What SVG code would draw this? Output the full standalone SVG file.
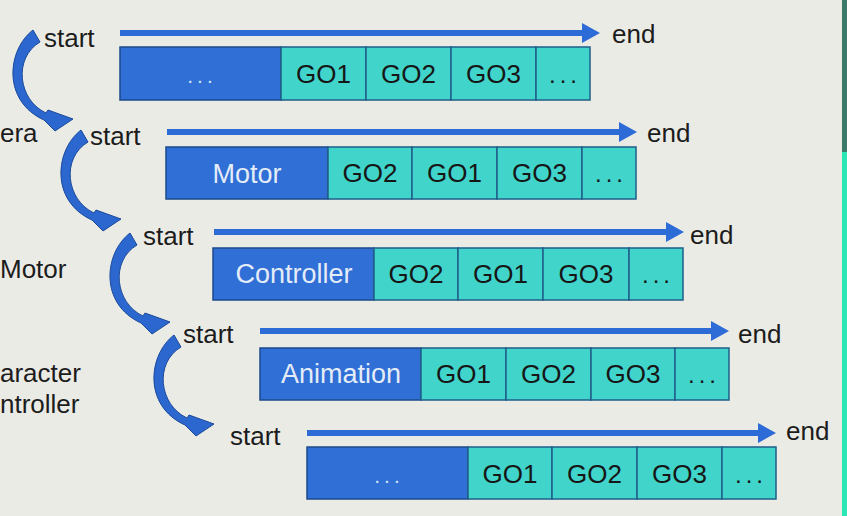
<svg xmlns="http://www.w3.org/2000/svg" xmlns:xlink="http://www.w3.org/1999/xlink" width="847" height="516" viewBox="0 0 847 516">
<style>
.bg{fill:#ebebe6}
.lbl{font-family:"Liberation Sans",Arial,sans-serif;font-size:26px;fill:#1c1c1c}
.side{font-family:"Liberation Sans",Arial,sans-serif;font-size:26px;fill:#1c1c1c}
.blue{fill:#2f6fd6;stroke:#1d4a8c;stroke-width:1.5}
.teal{fill:#40d4cb;stroke:#1f5f8a;stroke-width:1.5}
.wt{font-family:"Liberation Sans",Arial,sans-serif;font-size:27px;fill:#e4ecf8;text-anchor:middle}
.go{font-family:"Liberation Sans",Arial,sans-serif;font-size:26px;fill:#161616;text-anchor:middle}
.dotw{font-family:"Liberation Sans",Arial,sans-serif;font-size:21px;fill:#d8e4f6;text-anchor:middle;letter-spacing:4px}
.dotk{font-family:"Liberation Sans",Arial,sans-serif;font-size:24px;fill:#161616;text-anchor:middle;letter-spacing:4px}
.tl{stroke:#2d6bd6;stroke-width:6;fill:none;marker-end:url(#head)}
.curve{fill:#2b67cf;stroke:#1b4a9a;stroke-width:1}
</style>
<defs>
<marker id="head" markerUnits="userSpaceOnUse" markerWidth="18" markerHeight="20" refX="0" refY="10" orient="auto" viewBox="0 0 18 20">
<path d="M0,0 L18,10 L0,20 Z" fill="#2d6bd6"/>
</marker>
<path id="carrow" class="curve" d="M33,30 C7,50 2,101 44,120 L55,131 L73,119 L48,110 L46,113 C18,100 13,58 40,42 Z"/>
</defs>
<rect class="bg" x="0" y="0" width="847" height="516"/>
<rect x="842" y="0" width="5" height="152" fill="#3b7b6a"/>
<rect x="842" y="152" width="5" height="364" fill="#2ae6b2"/>

<g id="side-labels">
<text class="side" x="0" y="142">era</text>
<text class="side" x="0" y="278">Motor</text>
<text class="side" x="0" y="382">aracter</text>
<text class="side" x="0" y="413">ntroller</text>
</g>

<g id="connectors">
<use xlink:href="#carrow" x="0" y="0"/>
<use xlink:href="#carrow" x="48" y="100"/>
<use xlink:href="#carrow" x="97" y="203"/>
<use xlink:href="#carrow" x="141" y="305"/>
<line class="tl" x1="120" y1="33" x2="582" y2="33"/>
<line class="tl" x1="167" y1="132" x2="619" y2="132"/>
<line class="tl" x1="214" y1="232" x2="666" y2="232"/>
<line class="tl" x1="260" y1="331" x2="711" y2="331"/>
<line class="tl" x1="307" y1="433" x2="758" y2="433"/>
</g>

<g id="row1">
<text class="lbl" x="44" y="47">start</text>
<text class="lbl" x="612" y="43">end</text>
<g transform="translate(120,47)">
<rect class="blue" x="0" y="0" width="161" height="53"/>
<rect class="teal" x="161" y="0" width="85" height="53"/>
<rect class="teal" x="246" y="0" width="85" height="53"/>
<rect class="teal" x="331" y="0" width="85" height="53"/>
<rect class="teal" x="416" y="0" width="54" height="53"/>
<text class="dotw" x="82" y="36">...</text>
<text class="go" x="203.5" y="36">GO1</text>
<text class="go" x="288.5" y="36">GO2</text>
<text class="go" x="373.5" y="36">GO3</text>
<text class="dotk" x="445" y="36">...</text>
</g>
</g>

<g id="row2">
<text class="lbl" x="90" y="145">start</text>
<text class="lbl" x="647" y="142">end</text>
<g transform="translate(166,147)">
<rect class="blue" x="0" y="0" width="162" height="52"/>
<rect class="teal" x="162" y="0" width="84" height="52"/>
<rect class="teal" x="246" y="0" width="85" height="52"/>
<rect class="teal" x="331" y="0" width="85" height="52"/>
<rect class="teal" x="416" y="0" width="54" height="52"/>
<text class="wt" x="81" y="36">Motor</text>
<text class="go" x="204" y="35">GO2</text>
<text class="go" x="288.5" y="35">GO1</text>
<text class="go" x="373.5" y="35">GO3</text>
<text class="dotk" x="445" y="35">...</text>
</g>
</g>

<g id="row3">
<text class="lbl" x="143" y="245">start</text>
<text class="lbl" x="690" y="244">end</text>
<g transform="translate(213,248)">
<rect class="blue" x="0" y="0" width="161" height="52"/>
<rect class="teal" x="161" y="0" width="84" height="52"/>
<rect class="teal" x="245" y="0" width="85" height="52"/>
<rect class="teal" x="330" y="0" width="86" height="52"/>
<rect class="teal" x="416" y="0" width="54" height="52"/>
<text class="wt" x="81" y="35">Controller</text>
<text class="go" x="203" y="35">GO2</text>
<text class="go" x="287.5" y="35">GO1</text>
<text class="go" x="373" y="35">GO3</text>
<text class="dotk" x="445" y="35">...</text>
</g>
</g>

<g id="row4">
<text class="lbl" x="183" y="343">start</text>
<text class="lbl" x="738" y="343">end</text>
<g transform="translate(260,348)">
<rect class="blue" x="0" y="0" width="161" height="52"/>
<rect class="teal" x="161" y="0" width="85" height="52"/>
<rect class="teal" x="246" y="0" width="85" height="52"/>
<rect class="teal" x="331" y="0" width="84" height="52"/>
<rect class="teal" x="415" y="0" width="54" height="52"/>
<text class="wt" x="81" y="35">Animation</text>
<text class="go" x="203.5" y="35">GO1</text>
<text class="go" x="288.5" y="35">GO2</text>
<text class="go" x="373" y="35">GO3</text>
<text class="dotk" x="444" y="35">...</text>
</g>
</g>

<g id="row5">
<text class="lbl" x="230" y="445">start</text>
<text class="lbl" x="786" y="440">end</text>
<g transform="translate(307,447)">
<rect class="blue" x="0" y="0" width="161" height="52"/>
<rect class="teal" x="161" y="0" width="84" height="52"/>
<rect class="teal" x="245" y="0" width="85" height="52"/>
<rect class="teal" x="330" y="0" width="85" height="52"/>
<rect class="teal" x="415" y="0" width="54" height="52"/>
<text class="dotw" x="82" y="36">...</text>
<text class="go" x="203" y="36">GO1</text>
<text class="go" x="287.5" y="36">GO2</text>
<text class="go" x="372.5" y="36">GO3</text>
<text class="dotk" x="444" y="36">...</text>
</g>
</g>
</svg>
